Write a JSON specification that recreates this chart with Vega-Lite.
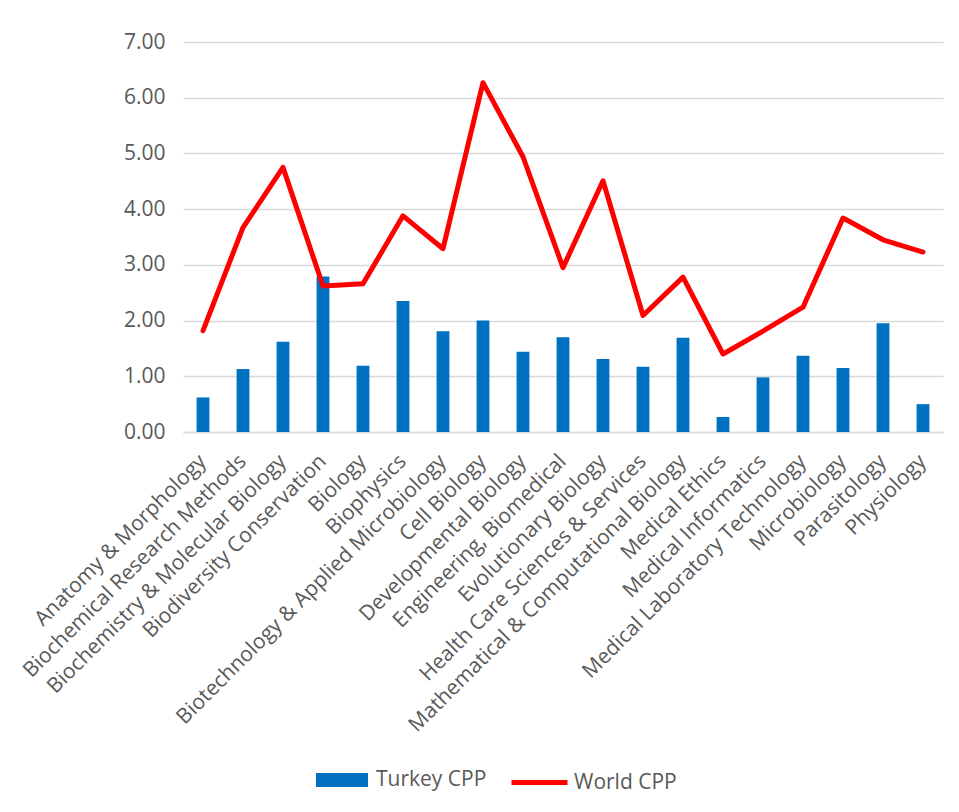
{
  "$schema": "https://vega.github.io/schema/vega-lite/v6.json",
  "autosize": {"type": "none"},
  "padding": {"left": 183, "top": 42, "right": 16, "bottom": 380},
  "width": 760,
  "height": 390,
  "background": "white",
  "config": {
    "view": {"stroke": null},
    "font": "Open Sans",
    "axis": {"labelFont": "Open Sans", "labelColor": "#595959", "labelFontSize": 21}
  },
  "data": {
    "values": [
      {"category": "Anatomy & Morphology", "turkey": 0.62, "world": 1.82},
      {"category": "Biochemical Research Methods", "turkey": 1.13, "world": 3.67},
      {"category": "Biochemistry & Molecular Biology", "turkey": 1.62, "world": 4.75},
      {"category": "Biodiversity Conservation", "turkey": 2.79, "world": 2.62},
      {"category": "Biology", "turkey": 1.19, "world": 2.66},
      {"category": "Biophysics", "turkey": 2.35, "world": 3.88},
      {"category": "Biotechnology & Applied Microbiology", "turkey": 1.81, "world": 3.29},
      {"category": "Cell Biology", "turkey": 2.0, "world": 6.27},
      {"category": "Developmental Biology", "turkey": 1.44, "world": 4.94},
      {"category": "Engineering, Biomedical", "turkey": 1.7, "world": 2.95},
      {"category": "Evolutionary Biology", "turkey": 1.31, "world": 4.51},
      {"category": "Health Care Sciences & Services", "turkey": 1.17, "world": 2.09},
      {"category": "Mathematical & Computational Biology", "turkey": 1.69, "world": 2.78},
      {"category": "Medical Ethics", "turkey": 0.27, "world": 1.4},
      {"category": "Medical Informatics", "turkey": 0.98, "world": 1.81},
      {"category": "Medical Laboratory Technology", "turkey": 1.37, "world": 2.24},
      {"category": "Microbiology", "turkey": 1.15, "world": 3.84},
      {"category": "Parasitology", "turkey": 1.95, "world": 3.45},
      {"category": "Physiology", "turkey": 0.5, "world": 3.23}
    ]
  },
  "encoding": {
    "x": {
      "field": "category",
      "type": "nominal",
      "sort": null,
      "title": null,
      "scale": {"paddingInner": 0.68, "paddingOuter": 0.34},
      "axis": {
        "labelAngle": -45,
        "labelAlign": "right",
        "labelBaseline": "middle",
        "labelPadding": 26,
        "ticks": false,
        "domainColor": "#d9d9d9",
        "domainWidth": 1.5,
        "labelLimit": 600,
        "labelOverlap": false
      }
    }
  },
  "layer": [
    {
      "mark": {"type": "bar", "color": "#0070C0"},
      "encoding": {
        "y": {
          "field": "turkey",
          "type": "quantitative",
          "title": null,
          "scale": {"domain": [0, 7]},
          "axis": {
            "format": ".2f",
            "values": [0, 1, 2, 3, 4, 5, 6, 7],
            "labelOverlap": false,
            "domain": false,
            "ticks": false,
            "labelPadding": 18,
            "gridColor": "#d9d9d9",
            "gridWidth": 1.5
          }
        },
        "color": {
          "datum": "Turkey CPP",
          "type": "nominal",
          "scale": {"domain": ["Turkey CPP"], "range": ["#0070C0"]},
          "legend": {
            "title": null,
            "orient": "none",
            "legendX": 133,
            "legendY": 712,
            "symbolType": "M-1,-0.27H1V0.27H-1Z",
            "symbolSize": 2700,
            "symbolStrokeWidth": 0,
            "symbolOpacity": 1,
            "labelFontSize": 21,
            "labelColor": "#595959",
            "labelFont": "Open Sans",
            "labelOffset": 8,
            "padding": 0
          }
        }
      }
    },
    {
      "mark": {"type": "line", "strokeWidth": 5, "strokeJoin": "round", "strokeCap": "round"},
      "encoding": {
        "y": {
          "field": "world",
          "type": "quantitative",
          "title": null,
          "scale": {"domain": [0, 7]},
          "axis": {
            "format": ".2f",
            "values": [0, 1, 2, 3, 4, 5, 6, 7],
            "labelOverlap": false,
            "domain": false,
            "ticks": false,
            "labelPadding": 18,
            "gridColor": "#d9d9d9",
            "gridWidth": 1.5
          }
        },
        "stroke": {
          "datum": "World CPP",
          "type": "nominal",
          "scale": {"domain": ["World CPP"], "range": ["#FF0000"]},
          "legend": {
            "title": null,
            "orient": "none",
            "legendX": 326,
            "legendY": 710,
            "symbolType": "stroke",
            "symbolSize": 3136,
            "symbolStrokeWidth": 5,
            "labelFontSize": 21,
            "labelColor": "#595959",
            "labelFont": "Open Sans",
            "labelOffset": 4,
            "padding": 0
          }
        }
      }
    }
  ]
}
